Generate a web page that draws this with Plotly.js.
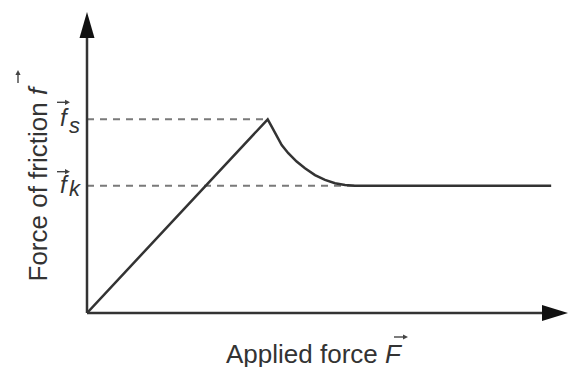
<!DOCTYPE html>
<html>
<head>
<meta charset="utf-8">
<script src="https://cdn.plot.ly/plotly-3.0.1.min.js"></script>
<style>html,body{margin:0;padding:0;background:#fff;}#chart{width:573px;height:367px;}</style>
</head>
<body>
<div id="chart"></div>
<script>
// Friction vs applied force (conceptual values)
var rampX = [0, 3.757];
var rampY = [0, 6.435];
var decayX = [3.840, 3.944, 4.048, 4.185, 4.359, 4.532, 4.740, 4.948, 5.156, 5.364, 5.572];
var decayY = [6.19, 5.86, 5.58, 5.31, 5.03, 4.81, 4.58, 4.42, 4.31, 4.25, 4.23];
var plateauX = [9.65];
var plateauY = [4.23];
var fs = 6.435;
var fk = 4.23;
var xMax = 10, yMax = 10;

var ink = '#333333';
var headCol = '#111111';
var dashCol = '#7a7a7a';
var font = 'Liberation Sans, Arial, sans-serif';

var curveX = rampX.concat(decayX, plateauX);
var curveY = rampY.concat(decayY, plateauY);

var traces = [
  {x: [0, rampX[1]], y: [fs, fs], mode: 'lines', line: {color: dashCol, width: 2, dash: '7px,6px'}, hoverinfo: 'skip'},
  {x: [0, decayX[decayX.length - 1]], y: [fk, fk], mode: 'lines', line: {color: dashCol, width: 2, dash: '7px,6px'}, hoverinfo: 'skip'},
  {x: curveX, y: curveY, mode: 'lines', line: {color: ink, width: 2.5, shape: 'linear'}}
];

// pixel-sized decorations anchored to paper / data points
function pxLine(xref, yref, xa, ya, x0, y0, x1, y1, w, col) {
  return {type: 'line', xref: xref, yref: yref, xsizemode: 'pixel', ysizemode: 'pixel',
          xanchor: xa, yanchor: ya, x0: x0, y0: y0, x1: x1, y1: y1, line: {color: col, width: w}};
}
function pxPath(xref, yref, xa, ya, path, col) {
  return {type: 'path', xref: xref, yref: yref, xsizemode: 'pixel', ysizemode: 'pixel',
          xanchor: xa, yanchor: ya, path: path, fillcolor: col, line: {width: 0}};
}
function vecRight(xref, yref, xa, ya, tx, ty, len) {
  return [
    pxLine(xref, yref, xa, ya, tx - len, ty, tx - 3, ty, 1.4, '#444'),
    pxPath(xref, yref, xa, ya, 'M' + tx + ',' + ty + ' L' + (tx - 5) + ',' + (ty + 2.6) + ' L' + (tx - 5) + ',' + (ty - 2.6) + ' Z', '#444')
  ];
}
function vecUp(xref, yref, xa, ya, tx, ty, len) {
  return [
    pxLine(xref, yref, xa, ya, tx, ty - len, tx, ty - 3, 1.4, '#444'),
    pxPath(xref, yref, xa, ya, 'M' + tx + ',' + ty + ' L' + (tx - 2.6) + ',' + (ty - 5) + ' L' + (tx + 2.6) + ',' + (ty - 5) + ' Z', '#444')
  ];
}

var shapes = [
  pxLine('paper', 'paper', 0, 0, 0, 0, 0, 285, 2.5, ink),
  pxLine('paper', 'paper', 0, 0, 0, 0, 465, 0, 2.5, ink),
  pxPath('paper', 'paper', 0, 1, 'M0,0 L-7.5,-26 L7.5,-26 Z', headCol),
  pxPath('paper', 'paper', 1, 0, 'M0,0 L-26,8 L-26,-8 Z', headCol)
]
  .concat(vecRight('paper', 'y', 0, fs, -17, 17, 13))
  .concat(vecRight('paper', 'y', 0, fk, -17, 14, 13))
  .concat(vecUp('paper', 'paper', 0, 0, -69, 243, 13))
  .concat(vecRight('paper', 'paper', 0, 0, 321, -24, 14));

var labFont = {family: font, size: 24, color: ink};
var subFont = {family: font, size: 22, color: ink};
var annotations = [
  {x: 0, y: fs, xref: 'paper', yref: 'y', xshift: -29, yshift: 2, text: '<i>f</i>', showarrow: false, font: labFont},
  {x: 0, y: fs, xref: 'paper', yref: 'y', xshift: -20, yshift: -6, text: '<i>s</i>', showarrow: false, font: subFont},
  {x: 0, y: fk, xref: 'paper', yref: 'y', xshift: -29, yshift: 1, text: '<i>f</i>', showarrow: false, font: labFont},
  {x: 0, y: fk, xref: 'paper', yref: 'y', xshift: -20, yshift: -3, text: '<i>k</i>', showarrow: false, font: subFont},
  {x: 0, y: 0, xref: 'paper', yref: 'paper', xshift: -50, yshift: 129.5, text: 'Force of friction <i>f</i>', textangle: -90,
   showarrow: false, xanchor: 'center', yanchor: 'middle', font: {family: font, size: 26, color: ink}},
  {x: 0, y: 0, xref: 'paper', yref: 'paper', xshift: 227, yshift: -41, text: 'Applied force <i>F</i>',
   showarrow: false, xanchor: 'center', yanchor: 'middle', font: {family: font, size: 26, color: ink}}
];

var layout = {
  width: 573, height: 367,
  margin: {l: 87, r: 5, t: 12, b: 54, pad: 0},
  paper_bgcolor: '#ffffff', plot_bgcolor: '#ffffff',
  showlegend: false,
  xaxis: {range: [0, xMax], visible: false, fixedrange: true},
  yaxis: {range: [0, yMax], visible: false, fixedrange: true},
  shapes: shapes,
  annotations: annotations
};

Plotly.newPlot('chart', traces, layout, {displayModeBar: false, staticPlot: true});
</script>
</body>
</html>
